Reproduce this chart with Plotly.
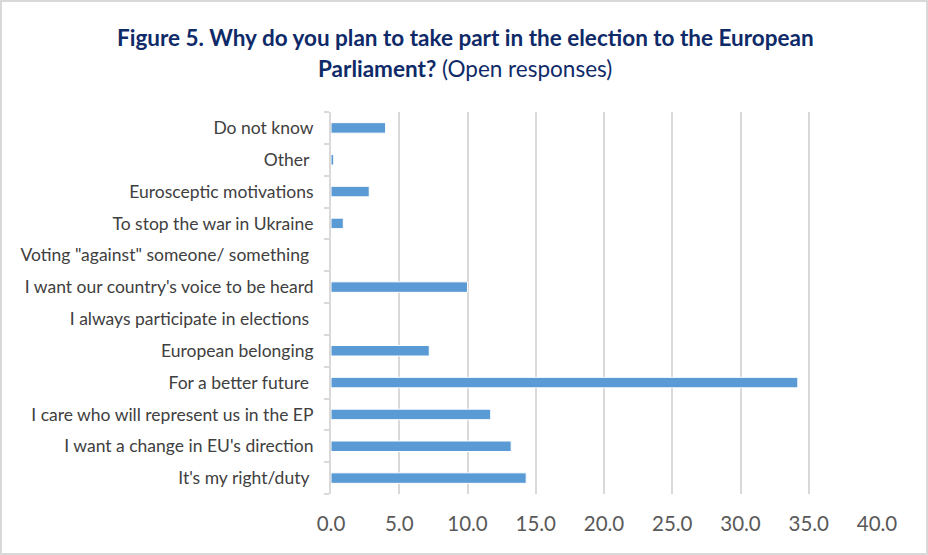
import plotly.graph_objects as go

# Reasons for voting, listed bottom to top as they appear on the chart
categories = [
    "It's my right/duty\u00a0",
    "I want a change in EU's direction",
    "I care who will represent us in the EP",
    "For a better future\u00a0",
    "European belonging",
    "I always participate in elections\u00a0",
    "I want our country's voice to be heard",
    "Voting \"against\" someone/ something\u00a0",
    "To stop the war in Ukraine",
    "Eurosceptic motivations",
    "Other\u00a0",
    "Do not know",
]
shares = [14.3, 13.2, 11.7, 34.2, 7.2, 0.0, 10.0, 0.0, 0.9, 2.8, 0.2, 4.0]

x_ticks = [0, 5, 10, 15, 20, 25, 30, 35, 40]
x_tick_labels = ["0.0", "5.0", "10.0", "15.0", "20.0", "25.0", "30.0", "35.0", "40.0"]

W, H = 928, 555
L, R, T, B = 331, 51, 112, 61

fig = go.Figure(
    go.Bar(
        x=shares,
        y=categories,
        orientation="h",
        marker=dict(color="#5B9BD5", line=dict(color="white", width=1)),
        width=0.33,
        hoverinfo="x+y",
    )
)

navy = "#0F2A68"
fig.update_layout(
    width=W,
    height=H,
    margin=dict(l=L, r=R, t=T, b=B),
    paper_bgcolor="white",
    plot_bgcolor="white",
    font=dict(family="Lato, Carlito, sans-serif", color="#404040"),
    showlegend=False,
    xaxis=dict(
        range=[0, 40],
        tickvals=x_ticks,
        ticktext=x_tick_labels,
        showgrid=True,
        gridcolor="#d9d9d9",
        gridwidth=2,
        zeroline=False,
        showline=False,
        ticks="",
        tickfont=dict(size=20.5, color="#595959"),
        ticklabelstandoff=15,
        fixedrange=True,
    ),
    yaxis=dict(
        categoryorder="array",
        categoryarray=categories,
        showgrid=False,
        zeroline=False,
        showline=True,
        linecolor="#d9d9d9",
        linewidth=2,
        ticks="outside",
        tickson="boundaries",
        ticklen=5,
        tickwidth=2,
        tickcolor="#d9d9d9",
        tickfont=dict(size=17.5, color="#404040"),
        ticklabelstandoff=12,
        fixedrange=True,
    ),
    annotations=[
        dict(
            text="<b>Figure 5. Why do you plan to take part in the election to the European</b>",
            xref="paper", yref="paper",
            x=(465 - L) / (W - L - R), y=(H - B - 37) / (H - T - B),
            xanchor="center", yanchor="middle", showarrow=False,
            font=dict(size=22.5, color=navy),
        ),
        dict(
            text="<b>Parliament?</b> (Open responses)",
            xref="paper", yref="paper",
            x=(465 - L) / (W - L - R), y=(H - B - 68) / (H - T - B),
            xanchor="center", yanchor="middle", showarrow=False,
            font=dict(size=22.5, color=navy),
        ),
    ],
    shapes=[
        dict(
            type="rect", xref="paper", yref="paper",
            x0=(1 - L) / (W - L - R), x1=(927 - L) / (W - L - R),
            y0=(H - B - 554) / (H - T - B), y1=(H - B - 1) / (H - T - B),
            line=dict(color="#d9d9d9", width=2), fillcolor="rgba(0,0,0,0)",
            layer="below",
        )
    ],
)

fig.write_html("out.html")
